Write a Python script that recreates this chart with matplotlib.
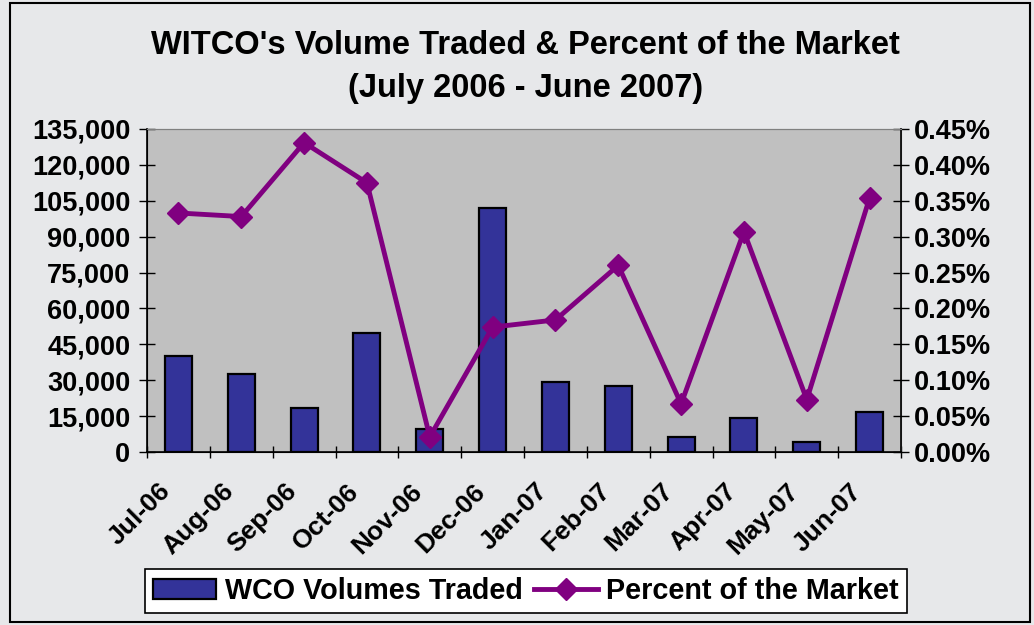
import numpy as np
import matplotlib
matplotlib.use("Agg")
from matplotlib import pyplot as plt
from matplotlib import transforms
from matplotlib.patches import Rectangle
from matplotlib.ticker import FuncFormatter, MultipleLocator, NullFormatter

months = ['Jul-06', 'Aug-06', 'Sep-06', 'Oct-06', 'Nov-06', 'Dec-06',
          'Jan-07', 'Feb-07', 'Mar-07', 'Apr-07', 'May-07', 'Jun-07']
volumes = [40000, 32800, 18500, 49700, 9600, 102000,
           29100, 27500, 6300, 14200, 4300, 16700]
market_pct = [0.333, 0.328, 0.431, 0.375, 0.021, 0.174,
              0.184, 0.260, 0.067, 0.307, 0.073, 0.354]

plt.rcParams['font.family'] = ['Liberation Sans', 'DejaVu Sans']
plt.rcParams['font.weight'] = 'bold'

fig = plt.figure(figsize=(10.34, 6.25), dpi=100)
fig.patch.set_facecolor('#e7e8ea')

# chart area frame
W, H = 1034, 625
fig.patches.append(Rectangle((10 / W, 3 / H), 1020 / W, 619 / H, transform=fig.transFigure,
                             fill=False, edgecolor='black', linewidth=1.5))

ax = fig.add_axes([0.1422, 0.2768, 0.7292, 0.5168])
ax.set_facecolor('#c0c0c0')
x = np.arange(len(months))
bars = ax.bar(x, volumes, width=0.43, color='#333399', edgecolor='black',
              linewidth=1.6, label='WCO Volumes Traded', zorder=2)
ax.set_xlim(-0.5, len(months) - 0.5)
ax.set_ylim(0, 135000)
ax.yaxis.set_major_locator(MultipleLocator(15000))
ax.yaxis.set_major_formatter(FuncFormatter(lambda v, p: f'{v:,.0f}'))

# category labels, rotated like Excel's
ax.set_xticks(x)
ax.xaxis.set_major_formatter(NullFormatter())
shift = transforms.ScaledTranslation(-20 / 100, -27 / 100, fig.dpi_scale_trans)
for xi, m in zip(x, months):
    ax.text(xi, 0, m, transform=ax.get_xaxis_transform() + shift,
            rotation=45, ha='right', va='top', rotation_mode='anchor',
            fontsize=19, fontweight='bold')

ax.set_xticks(np.arange(-0.5, len(months)), minor=True)
ax.tick_params(axis='x', which='major', length=0)
ax.tick_params(axis='x', which='minor', length=8, direction='inout', width=1)
ax.tick_params(axis='y', labelsize=19.5, length=12, direction='inout', width=1, pad=6)
for lab in ax.get_yticklabels():
    lab.set_fontweight('bold')
ax.spines['top'].set_color('#808080')
ax.spines['right'].set_color('#808080')
ax.spines['left'].set_linewidth(1.2)
ax.spines['bottom'].set_linewidth(1.2)

ax2 = ax.twinx()
line, = ax2.plot(x, market_pct, color='#800080', linewidth=3.5, marker='D',
                 markersize=11, label='Percent of the Market', zorder=3)
ax2.set_ylim(0, 0.45)
ax2.yaxis.set_major_locator(MultipleLocator(0.05))
ax2.yaxis.set_major_formatter(FuncFormatter(lambda v, p: f'{v:.2f}%'))
ax2.tick_params(axis='y', labelsize=19.5, length=12, direction='inout', width=1, pad=3)
for lab in ax2.get_yticklabels():
    lab.set_fontweight('bold')
ax2.spines['right'].set_color('black')
ax2.spines['right'].set_linewidth(1.2)
ax2.spines['top'].set_color('#808080')

fig.text(0.508, 1 - 45 / H, "WITCO's Volume Traded & Percent of the Market",
         ha='center', va='center', fontsize=23.5, fontweight='bold')
fig.text(0.508, 1 - 89 / H, "(July 2006 - June 2007)",
         ha='center', va='center', fontsize=23.5, fontweight='bold')

leg = fig.legend([bars, line], ['WCO Volumes Traded', 'Percent of the Market'],
                 loc='center', bbox_to_anchor=(526 / W, 34 / H), ncol=2,
                 frameon=True, fancybox=False, edgecolor='black',
                 facecolor='white', framealpha=1, handlelength=2.2,
                 columnspacing=0.4, handletextpad=0.3, borderpad=0.28,
                 prop={'weight': 'bold', 'size': 20.7})
leg.get_frame().set_linewidth(1.2)

fig.savefig('out.png', dpi=100, facecolor=fig.get_facecolor())
